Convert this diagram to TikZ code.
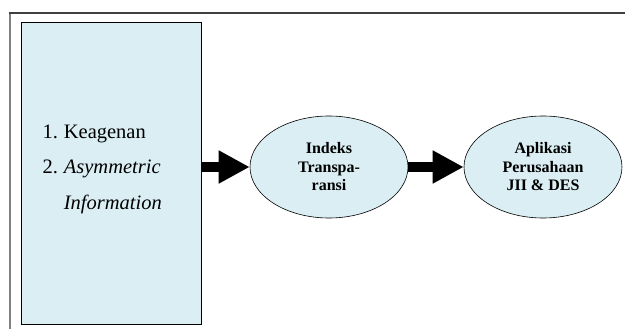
\documentclass[tikz,border=0pt]{standalone}
\usepackage{fontspec}
\setmainfont{Liberation Serif}
\usetikzlibrary{arrows.meta,shapes.geometric}
\definecolor{BoxClr}{rgb}{0.855,0.933,0.953}
\definecolor{FrameClr}{rgb}{0.5,0.5,0.5}
\definecolor{TopClr}{rgb}{0.25,0.25,0.25}

\begin{document}
\begin{tikzpicture}[x=1pt,y=-1pt,
  factorbox/.style={draw=black,line width=0.8pt,fill=BoxClr,minimum width=180pt,minimum height=302pt,inner sep=0pt},
  oval/.style={ellipse,draw=black,line width=0.6pt,fill=BoxClr,minimum width=158pt,minimum height=102pt,inner sep=0pt,align=center,font=\bfseries\fontsize{16}{18.5}\selectfont},
  bigarrow/.style={line width=10pt,-{Triangle[length=31pt,width=31pt]}}]
\useasboundingbox (0,0) rectangle (625,329);

% frame
\draw[FrameClr,line width=1.8pt] (10,329) -- (10,13);
\draw[TopClr,line width=1.5pt] (9.1,13) -- (625,13);

\node[factorbox] (factors) at (111,173) {};
\node[anchor=west,inner sep=0pt,font=\fontsize{20.5}{18}\selectfont] (list) at ([xshift=21.7pt,yshift=6.2pt]factors.west)
  {\renewcommand\arraystretch{2}\begin{tabular}{@{}l@{\hspace{6pt}}l@{}}
   1. & Keagenan\\
   2. & \textit{Asymmetric}\\
      & \textit{Information}
   \end{tabular}};

\node[oval] (indeks) at (329,167) {Indeks\\Transpa-\\ransi};
\node[oval] (aplikasi) at (543,167) {Aplikasi\\Perusahaan\\JII \& DES};

\draw[bigarrow] (factors.east |- indeks.west) -- (indeks);
\draw[bigarrow] (indeks) -- (aplikasi);

\end{tikzpicture}
\end{document}
